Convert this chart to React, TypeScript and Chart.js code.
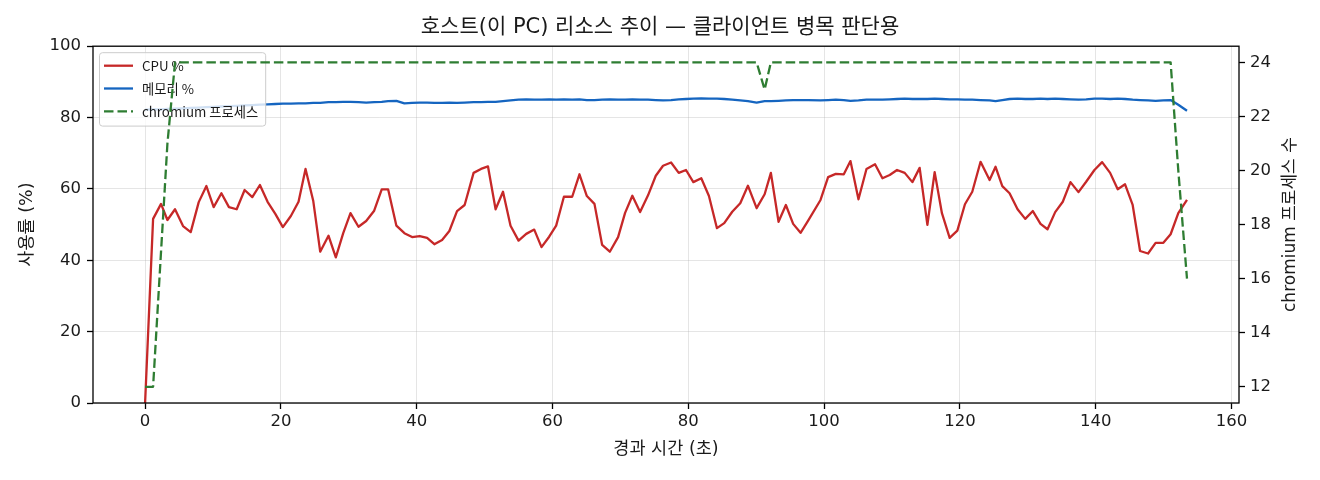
import { useEffect, useRef } from "react"
import { Chart, registerables } from "chart.js"

Chart.register(...registerables)

const KR_FONT = '"Noto Sans CJK KR", "Noto Sans", sans-serif'
// Latin, digits and punctuation from DejaVu, Hangul falls back to Noto CJK
const MIX_FONT = '"DejaVu Sans", "Noto Sans CJK KR", sans-serif'
const NUM_FONT = '"DejaVu Sans", sans-serif'

const TITLE = "호스트(이 PC) 리소스 추이 — 클라이언트 병목 판단용"
const X_LABEL = "경과 시간 (초)"
const Y_LABEL = "사용률 (%)"
const Y1_LABEL = "chromium 프로세스 수"

const CPU_LABEL = "CPU %"
const MEM_LABEL = "메모리 %"
const PROC_LABEL = "chromium 프로세스"

// sample times (s)
const elapsedSec = [
  0, 1.18, 2.35, 3.29, 4.41, 5.59, 6.72, 7.9, 9.03, 10.1,
  11.24, 12.35, 13.49, 14.66, 15.79, 16.91, 18.04, 19.18, 20.29, 21.47,
  22.6, 23.63, 24.76, 25.79, 27.01, 28.09, 29.18, 30.25, 31.43, 32.56,
  33.74, 34.85, 35.79, 37.01, 38.19, 39.32, 40.44, 41.53, 42.6, 43.74,
  44.81, 45.94, 47.06, 48.38, 49.47, 50.5, 51.62, 52.71, 53.82, 55.0,
  56.13, 57.31, 58.38, 59.51, 60.54, 61.68, 62.9, 63.97, 65.06, 66.18,
  67.31, 68.44, 69.66, 70.69, 71.76, 72.9, 74.07, 75.21, 76.28, 77.46,
  78.59, 79.66, 80.74, 81.91, 83.04, 84.22, 85.29, 86.47, 87.65, 88.78,
  90.06, 91.24, 92.16, 93.29, 94.37, 95.44, 96.53, 97.65, 99.47, 100.59,
  101.72, 102.9, 103.88, 105.06, 106.24, 107.5, 108.59, 109.66, 110.74, 111.87,
  113.0, 114.07, 115.21, 116.28, 117.35, 118.49, 119.62, 120.74, 121.82, 123.04,
  124.37, 125.25, 126.24, 127.31, 128.49, 129.62, 130.74, 131.87, 132.9, 134.03,
  135.15, 136.28, 137.46, 138.59, 139.81, 140.94, 142.12, 143.24, 144.32, 145.44,
  146.53, 147.71, 148.82, 149.96, 151.03, 152.16, 153.44,
]

const cpuPct = [
  0, 51.6, 55.8, 51.3, 54.3, 49.6, 47.9, 56.3, 60.8, 54.9,
  58.8, 54.9, 54.3, 59.7, 57.7, 61.1, 56.4, 53.0, 49.3, 52.4,
  56.4, 65.6, 56.7, 42.4, 46.9, 40.8, 47.6, 53.2, 49.4, 51.0,
  53.9, 59.9, 59.9, 49.7, 47.6, 46.5, 46.8, 46.3, 44.5, 45.7,
  48.2, 53.8, 55.5, 64.5, 65.6, 66.3, 54.3, 59.2, 49.7, 45.5,
  47.4, 48.6, 43.7, 46.6, 49.7, 57.8, 57.8, 64.1, 58.0, 55.8,
  44.3, 42.4, 46.5, 53.3, 58.1, 53.5, 58.2, 63.7, 66.5, 67.4,
  64.5, 65.3, 61.9, 63.0, 58.0, 49.0, 50.4, 53.6, 56.0, 60.9,
  54.6, 58.5, 64.5, 50.8, 55.5, 50.2, 47.7, 51.1, 56.9, 63.3,
  64.2, 64.1, 67.8, 57.1, 65.6, 66.9, 63.0, 63.9, 65.3, 64.5,
  61.9, 65.9, 49.9, 64.7, 53.2, 46.3, 48.3, 55.7, 59.2, 67.6,
  62.5, 66.2, 60.8, 58.8, 54.3, 51.6, 53.8, 50.2, 48.7, 53.5,
  56.4, 61.9, 59.1, 62.0, 65.3, 67.5, 64.5, 59.9, 61.3, 55.5,
  42.6, 41.9, 44.9, 44.9, 47.3, 53.2, 56.9,
]

const memPct = [
  82.2, 82.3, 82.3, 82.4, 82.5, 82.6, 82.7, 82.8, 82.9, 83.0,
  83.1, 83.2, 83.3, 83.4, 83.5, 83.6, 83.7, 83.8, 83.9, 83.9,
  84.0, 84.0, 84.1, 84.1, 84.3, 84.3, 84.4, 84.4, 84.3, 84.2,
  84.3, 84.4, 84.6, 84.7, 84.0, 84.1, 84.2, 84.2, 84.1, 84.1,
  84.2, 84.1, 84.2, 84.3, 84.3, 84.4, 84.4, 84.6, 84.8, 85.0,
  85.1, 85.0, 85.0, 85.1, 85.0, 85.1, 85.0, 85.1, 84.9, 84.9,
  85.0, 85.1, 85.0, 85.0, 85.1, 85.0, 85.0, 84.9, 84.8, 84.9,
  85.1, 85.2, 85.3, 85.4, 85.3, 85.3, 85.2, 85.0, 84.8, 84.6,
  84.2, 84.6, 84.6, 84.7, 84.8, 84.9, 84.9, 84.9, 84.8, 84.9,
  85.0, 84.9, 84.7, 84.8, 85.0, 85.0, 85.0, 85.1, 85.2, 85.3,
  85.2, 85.2, 85.2, 85.3, 85.2, 85.1, 85.1, 85.0, 85.0, 84.9,
  84.8, 84.6, 84.9, 85.2, 85.3, 85.2, 85.2, 85.3, 85.2, 85.3,
  85.2, 85.1, 85.0, 85.1, 85.3, 85.3, 85.2, 85.3, 85.2, 85.0,
  84.9, 84.8, 84.7, 84.8, 84.9, 83.6, 81.9,
]

const procCount = [
  12, 12, 17, 21, 24, 24, 24, 24, 24, 24,
  24, 24, 24, 24, 24, 24, 24, 24, 24, 24,
  24, 24, 24, 24, 24, 24, 24, 24, 24, 24,
  24, 24, 24, 24, 24, 24, 24, 24, 24, 24,
  24, 24, 24, 24, 24, 24, 24, 24, 24, 24,
  24, 24, 24, 24, 24, 24, 24, 24, 24, 24,
  24, 24, 24, 24, 24, 24, 24, 24, 24, 24,
  24, 24, 24, 24, 24, 24, 24, 24, 24, 24,
  24, 23, 24, 24, 24, 24, 24, 24, 24, 24,
  24, 24, 24, 24, 24, 24, 24, 24, 24, 24,
  24, 24, 24, 24, 24, 24, 24, 24, 24, 24,
  24, 24, 24, 24, 24, 24, 24, 24, 24, 24,
  24, 24, 24, 24, 24, 24, 24, 24, 24, 24,
  24, 24, 24, 24, 24, 20, 16,
]

const CPU_COLOR = "#c62828"
const MEM_COLOR = "#1565c0"
const PROC_COLOR = "#2e7d32"
const PROC_DASH = [9.5, 4]

const TEXT = "#1a1a1a"
const GRID = "rgba(176,176,176,0.33)"

const toPoints = (ys: number[]) => ys.map((y, i) => ({ x: elapsedSec[i], y }))

function drawLegend(chart: Chart) {
  const { ctx, chartArea } = chart
  const items = chart.data.datasets as any[]
  ctx.save()
  ctx.font = `13.3px ${KR_FONT}`
  const textW = Math.max(...items.map((d) => ctx.measureText(d.label).width))
  const x0 = chartArea.left + 6
  const y0 = chartArea.top + 6
  const rowH = 22.8
  const w = 43 + textW + 7
  const h = rowH * items.length + 5
  ctx.beginPath()
  ctx.roundRect(x0 + 0.5, y0 + 0.5, w, h, 3)
  ctx.fillStyle = "rgba(255,255,255,0.8)"
  ctx.fill()
  ctx.strokeStyle = "#cccccc"
  ctx.lineWidth = 1
  ctx.stroke()
  ctx.textBaseline = "middle"
  ctx.textAlign = "left"
  items.forEach((d, i) => {
    const cy = y0 + 13.5 + i * rowH
    ctx.beginPath()
    ctx.setLineDash(d.borderDash || [])
    ctx.strokeStyle = d.borderColor
    ctx.lineWidth = 2.3
    ctx.moveTo(x0 + 5, cy)
    ctx.lineTo(x0 + 34, cy)
    ctx.stroke()
    ctx.setLineDash([])
    ctx.fillStyle = TEXT
    ctx.fillText(d.label, x0 + 43, cy + 0.5)
  })
  ctx.restore()
}

const decorPlugin = {
  id: "hostDecor",
  // the legend sits above the CPU/memory lines but under the process line
  afterDatasetDraw(chart: Chart, args: any) {
    if (args.index === 1) drawLegend(chart)
  },
  afterDatasetsDraw(chart: Chart) {
    const { ctx, chartArea: a } = chart
    ctx.save()
    ctx.strokeStyle = "#000"
    ctx.lineWidth = 1.3
    ctx.strokeRect(a.left, a.top, a.right - a.left, a.bottom - a.top)
    ctx.restore()
  },
  afterDraw(chart: Chart) {
    // right axis label reads bottom-to-top like the left one
    const { ctx, chartArea: a } = chart
    ctx.save()
    ctx.translate(1291, (a.top + a.bottom) / 2)
    ctx.rotate(-Math.PI / 2)
    ctx.font = `17px ${MIX_FONT}`
    ctx.fillStyle = TEXT
    ctx.textAlign = "center"
    ctx.textBaseline = "middle"
    ctx.fillText(Y1_LABEL, 0, 0)
    ctx.restore()
  },
}

export default function App() {
  const chartRef = useRef<HTMLCanvasElement>(null)
  const chartInstance = useRef<Chart | null>(null)

  useEffect(() => {
    if (!chartRef.current) return
    if (chartInstance.current) chartInstance.current.destroy()

    const tickFont = { family: NUM_FONT, size: 16.5 }
    const labelFont = { family: MIX_FONT, size: 17.5 }

    chartInstance.current = new Chart(chartRef.current, {
      type: "line",
      data: {
        datasets: [
          {
            label: CPU_LABEL,
            data: toPoints(cpuPct),
            borderColor: CPU_COLOR,
            yAxisID: "y",
            order: 3,
          },
          {
            label: MEM_LABEL,
            data: toPoints(memPct),
            borderColor: MEM_COLOR,
            yAxisID: "y",
            order: 2,
          },
          {
            label: PROC_LABEL,
            data: toPoints(procCount),
            borderColor: PROC_COLOR,
            borderDash: PROC_DASH,
            yAxisID: "y1",
            order: 1,
          },
        ],
      },
      options: {
        responsive: false,
        animation: false,
        events: [],
        layout: { padding: 0 },
        elements: {
          line: { borderWidth: 2.3, tension: 0, fill: false, borderJoinStyle: "round" },
          point: { radius: 0, hoverRadius: 0 },
        },
        plugins: {
          legend: { display: false },
          tooltip: { enabled: false },
          title: {
            display: true,
            text: TITLE,
            color: TEXT,
            font: { family: MIX_FONT, size: 21, weight: "normal" },
            padding: { top: 15, bottom: 6 },
          },
        },
        scales: {
          x: {
            type: "linear",
            min: -7.67,
            max: 161.1,
            afterFit: (s: any) => {
              s.height = 77
            },
            border: { display: false },
            grid: { color: GRID, lineWidth: 1, tickColor: "#000", tickLength: 6, tickWidth: 1.3 },
            ticks: { stepSize: 20, includeBounds: false, color: TEXT, font: tickFont, padding: 3, maxRotation: 0 },
            title: {
              display: true,
              text: X_LABEL,
              color: TEXT,
              font: labelFont,
              padding: { top: 0, bottom: 20 },
            },
          },
          y: {
            type: "linear",
            position: "left",
            min: 0,
            max: 100,
            afterFit: (s: any) => {
              s.width = 93
            },
            border: { display: false },
            grid: { color: GRID, lineWidth: 1, tickColor: "#000", tickLength: 6, tickWidth: 1.3 },
            ticks: { stepSize: 20, color: TEXT, font: tickFont, padding: 6 },
            title: {
              display: true,
              text: Y_LABEL,
              color: TEXT,
              font: labelFont,
              padding: { top: 17, bottom: 0 },
            },
          },
          y1: {
            type: "linear",
            position: "right",
            min: 11.4,
            max: 24.6,
            afterFit: (s: any) => {
              s.width = 81
            },
            border: { display: false },
            grid: { drawOnChartArea: false, tickColor: "#000", tickLength: 6, tickWidth: 1.3 },
            ticks: { stepSize: 2, includeBounds: false, color: TEXT, font: tickFont, padding: 5 },
          },
        },
      },
      plugins: [decorPlugin],
    } as any)

    return () => {
      if (chartInstance.current) {
        chartInstance.current.destroy()
        chartInstance.current = null
      }
    }
  }, [])

  return (
    <div style={{ position: "absolute", left: 0, top: 0, width: 1320, height: 480, background: "#fff" }}>
      <canvas ref={chartRef} width={1320} height={480} />
    </div>
  )
}
